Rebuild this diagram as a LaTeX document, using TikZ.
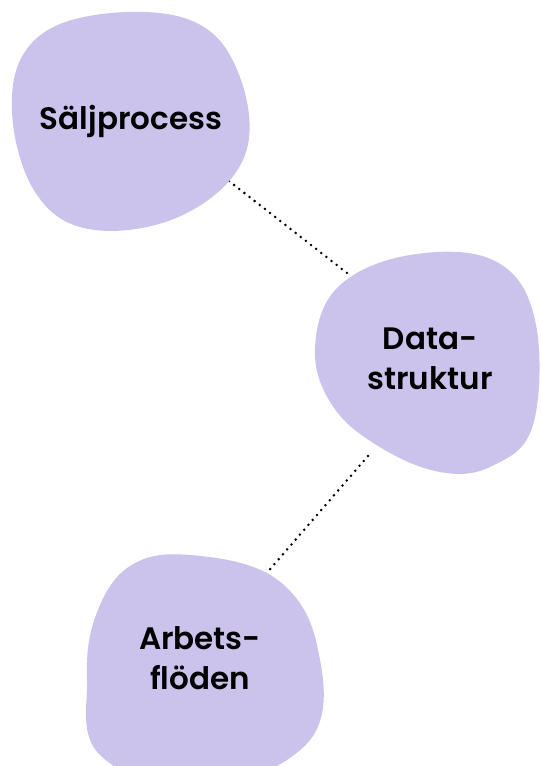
\documentclass[tikz,border=0pt]{standalone}
\usepackage{fontspec}
\setmainfont{Poppins}[BoldFont={Poppins SemiBold}]
\usetikzlibrary{calc}
\definecolor{Lilac}{HTML}{CBC3EB}
\pgfdeclarelayer{links}
\pgfsetlayers{links,main}

\begin{document}
\begin{tikzpicture}[x=1pt,y=-1pt,
    blob/.style={fill=Lilac},
    label/.style={font=\fontsize{31}{40}\selectfont\bfseries,align=center,text=black},
    link/.style={line width=2.8pt,line cap=round,dash pattern=on 0pt off 6.5pt}]
  \clip (0,0) rectangle (541,766);
  % blobs
  \fill[blob] plot[smooth cycle,tension=0.65] coordinates {(95,15) (190,20) (238,72) (245,155) (185,214) (95,230) (37,195) (12,112) (30,45)};
  \fill[blob] plot[smooth cycle,tension=0.65] coordinates {(410,255) (495,261) (535,320) (533,425) (492,466) (440,472) (378,446) (332,405) (315,348) (338,287)};
  \fill[blob] plot[smooth cycle,tension=0.65] coordinates {(190,555) (275,578) (317,645) (310,740) (200,790) (100,755) (87,680) (96,615) (130,566)};
  \node[label] (salj) at (131,121) {Säljprocess};
  \node[label] (data) at (430,359) {Data-\\struktur};
  \node[label] (arbets) at (200,658) {Arbets-\\flöden};
  % dotted links, behind the blobs
  \coordinate (salj-out) at (229,181);
  \coordinate (data-in) at (347,273);
  \coordinate (data-out) at (368,456);
  \coordinate (arbets-in) at (265,575);
  \begin{pgfonlayer}{links}
    \draw[link] (salj-out) -- (data-in);
    \draw[link] (data-out) -- (arbets-in);
  \end{pgfonlayer}
\end{tikzpicture}
\end{document}
